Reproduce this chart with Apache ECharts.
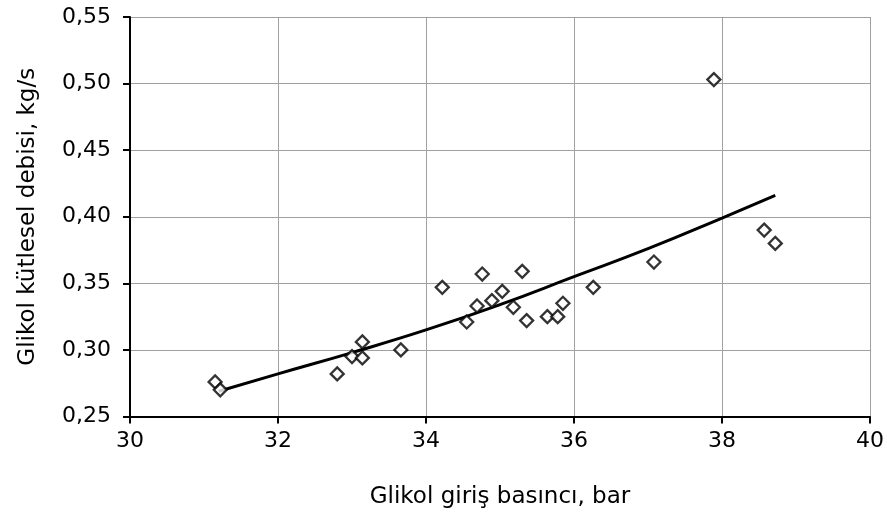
<!DOCTYPE html>
<html>
<head>
<meta charset="utf-8">
<script src="https://cdn.jsdelivr.net/npm/echarts@6/dist/echarts.min.js"></script>
<style>
  html, body { margin: 0; padding: 0; background: #fff; }
  #chart { width: 887px; height: 522px; }
</style>
</head>
<body>
<div id="chart"></div>
<script>
// ölçüm noktaları (basınç, bar / debi, kg/s)
const pressure = [31.15, 31.22, 32.80, 33.00, 33.14, 33.14, 33.66, 34.22, 34.55, 34.69, 34.76, 34.89,
  35.03, 35.18, 35.30, 35.36, 35.64, 35.78, 35.85, 36.26, 37.08, 37.89, 38.57, 38.72];
const massFlow = [0.276, 0.270, 0.282, 0.295, 0.306, 0.294, 0.300, 0.347, 0.321, 0.333, 0.357, 0.337,
  0.344, 0.332, 0.359, 0.322, 0.325, 0.325, 0.335, 0.347, 0.366, 0.503, 0.390, 0.380];

// eğilim çizgisi
const trendX = [31.20, 32, 33, 34, 35, 36, 37, 38, 38.72];
const trendY = [0.269, 0.282, 0.298, 0.315, 0.334, 0.355, 0.376, 0.399, 0.416];

const xTicks = [30, 32, 34, 36, 38, 40];
const yTicks = [0.25, 0.30, 0.35, 0.40, 0.45, 0.50, 0.55];

const font = 'DejaVu Sans, sans-serif';
const chart = echarts.init(document.getElementById('chart'));

chart.setOption({
  animation: false,
  grid: { left: 130, right: 17, top: 17, bottom: 105.5 },
  xAxis: {
    type: 'value',
    min: xTicks[0],
    max: xTicks[xTicks.length - 1],
    interval: 2,
    name: 'Glikol giriş basıncı, bar',
    nameLocation: 'middle',
    nameGap: 69,
    nameTextStyle: { fontFamily: font, fontSize: 23, color: '#000' },
    axisLine: { lineStyle: { color: '#000', width: 2 } },
    axisTick: { show: true, length: 7, lineStyle: { color: '#000', width: 2 } },
    axisLabel: { margin: 14, fontFamily: font, fontSize: 22, color: '#000' },
    splitLine: { lineStyle: { color: '#a0a0a0', width: 1 } }
  },
  yAxis: {
    type: 'value',
    min: yTicks[0],
    max: yTicks[yTicks.length - 1],
    interval: 0.05,
    name: 'Glikol kütlesel debisi, kg/s',
    nameLocation: 'middle',
    nameGap: 90,
    nameTextStyle: { fontFamily: font, fontSize: 23, color: '#000' },
    axisLine: { show: true, lineStyle: { color: '#000', width: 2 } },
    axisTick: { show: true, length: 7, lineStyle: { color: '#000', width: 2 } },
    axisLabel: {
      margin: 19, fontFamily: font, fontSize: 22, color: '#000',
      formatter: v => v.toFixed(2).replace('.', ',')
    },
    splitLine: { lineStyle: { color: '#a0a0a0', width: 1 } }
  },
  series: [
    {
      type: 'line',
      data: trendX.map((x, i) => [x, trendY[i]]),
      smooth: true,
      showSymbol: false,
      lineStyle: { color: '#000', width: 3 },
      z: 2
    },
    {
      type: 'scatter',
      data: pressure.map((x, i) => [x, massFlow[i]]),
      symbol: 'diamond',
      symbolSize: 13,
      itemStyle: { color: '#fff', borderColor: '#000', borderWidth: 2.3 },
      z: 3
    }
  ]
});
</script>
</body>
</html>
